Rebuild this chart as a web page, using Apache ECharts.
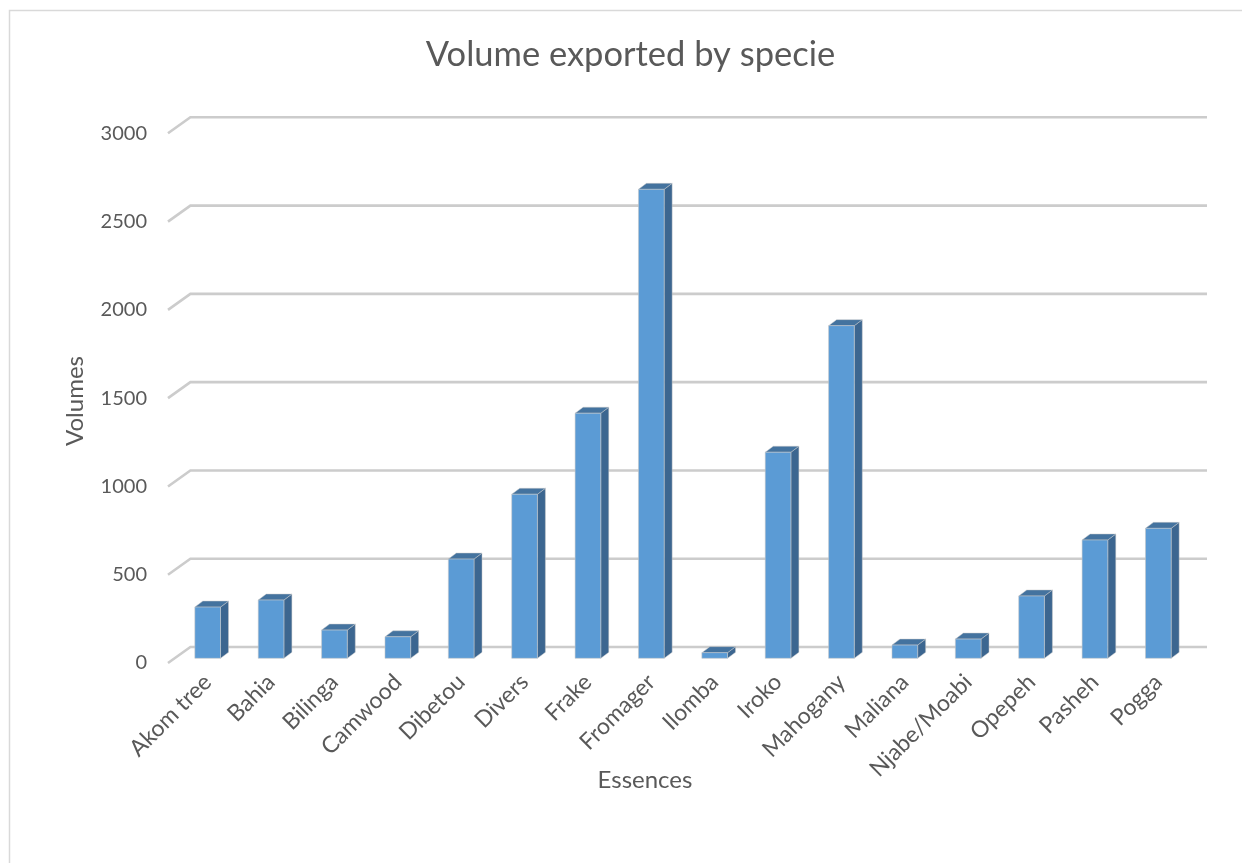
<!DOCTYPE html>
<html>
<head>
<meta charset="utf-8">
<script src="https://cdn.jsdelivr.net/npm/echarts@6/dist/echarts.min.js"></script>
<style>
  html, body { margin: 0; padding: 0; background: #ffffff; }
  #chart { width: 1242px; height: 863px; }
</style>
</head>
<body>
<div id="chart"></div>
<script>
// Export volumes per wood species
const species = ['Akom tree', 'Bahia', 'Bilinga', 'Camwood', 'Dibetou', 'Divers', 'Frake', 'Fromager',
  'Ilomba', 'Iroko', 'Mahogany', 'Maliana', 'Njabe/Moabi', 'Opepeh', 'Pasheh', 'Pogga'];
const volumes = [290, 330, 160, 122, 562, 929, 1388, 2656, 32, 1167, 1884, 75, 109, 353, 670, 736];
const yTicks = [0, 500, 1000, 1500, 2000, 2500, 3000];

const TEXT = '#595959';
const FONT = 'Lato';
// depth of the back wall and of the bars (pseudo-3D offsets)
const WALL_DX = 22.4, WALL_DY = -16;
const BAR_DX = 8, BAR_DY = -6;

const chart = echarts.init(document.getElementById('chart'));

// back-wall gridlines with a diagonal leg to the front edge
function renderGrid(params, api) {
  const v = api.value(0);
  const a = api.coord([0, v]);
  const b = api.coord([1, v]);
  return {
    type: 'polyline',
    shape: { points: [[a[0], a[1]], [a[0] + WALL_DX, a[1] + WALL_DY], [b[0] + WALL_DX, b[1] + WALL_DY]] },
    style: { stroke: '#cccccc', lineWidth: 2.6, fill: null },
    silent: true
  };
}

// one pseudo-3D column: front, side and top faces
function renderBar(params, api) {
  const idx = api.value(0);
  const top = api.coord([idx, api.value(1)]);
  const base = api.coord([idx, 0]);
  const band = api.size([1, 0])[0];
  const w = band * 0.405;
  const x0 = top[0] - w / 2, x1 = top[0] + w / 2;
  const yt = top[1], yb = base[1];
  return {
    type: 'group',
    children: [
      {
        type: 'polygon',
        shape: { points: [[x1, yt], [x1 + BAR_DX, yt + BAR_DY], [x1 + BAR_DX, yb + BAR_DY], [x1, yb]] },
        style: { fill: '#3c6690', stroke: 'rgba(200,200,200,0.6)', lineWidth: 0.8 }
      },
      {
        type: 'polygon',
        shape: { points: [[x0, yt], [x0 + BAR_DX, yt + BAR_DY], [x1 + BAR_DX, yt + BAR_DY], [x1, yt]] },
        style: { fill: '#44739f', stroke: 'rgba(200,200,200,0.6)', lineWidth: 0.8 }
      },
      {
        type: 'rect',
        shape: { x: x0, y: yt, width: w, height: yb - yt },
        style: { fill: '#5b9bd5', stroke: 'rgba(200,200,200,0.7)', lineWidth: 0.8 }
      }
    ]
  };
}

chart.setOption({
  backgroundColor: '#ffffff',
  animation: false,
  grid: [
    // plane of the column fronts
    { left: 176, width: 1014, top: 128.6, height: 529.7 },
    // front edge of the floor / wall (tick labels, gridline legs)
    { left: 168, width: 1016.6, top: 133.3, height: 529.7 }
  ],
  xAxis: [
    {
      type: 'category', gridIndex: 0, data: species,
      axisLine: { show: false }, axisTick: { show: false },
      axisLabel: {
        interval: 0, rotate: 45, margin: 20,
        color: TEXT, fontFamily: FONT, fontSize: 23
      }
    },
    { type: 'value', gridIndex: 1, min: 0, max: 1, show: false }
  ],
  yAxis: [
    { type: 'value', gridIndex: 0, min: 0, max: 3000, interval: 500, show: false },
    {
      type: 'value', gridIndex: 1, min: 0, max: 3000, interval: 500,
      axisLine: { show: false }, axisTick: { show: false }, splitLine: { show: false },
      axisLabel: { margin: 21, color: TEXT, fontFamily: FONT, fontSize: 20, formatter: v => String(v) }
    }
  ],
  series: [
    {
      type: 'custom', xAxisIndex: 1, yAxisIndex: 1, z: 1,
      data: yTicks.map(v => [v]),
      renderItem: renderGrid
    },
    {
      type: 'custom', xAxisIndex: 0, yAxisIndex: 0, z: 2,
      data: volumes.map((v, i) => [i, v]),
      renderItem: renderBar
    }
  ],
  graphic: [
    {
      type: 'rect', z: -10, silent: true,
      shape: { x: 9.5, y: 10.5, width: 1300, height: 900 },
      style: { fill: null, stroke: '#d9d9d9', lineWidth: 1.5 }
    },
    {
      type: 'text', x: 630.5, y: 55,
      style: { text: 'Volume exported by specie', fill: TEXT, font: '34.5px Lato', textAlign: 'center', textVerticalAlign: 'middle' }
    },
    {
      type: 'text', x: 75, y: 401, rotation: Math.PI / 2,
      style: { text: 'Volumes', fill: TEXT, font: '24px Lato', textAlign: 'center', textVerticalAlign: 'middle' }
    },
    {
      type: 'text', x: 645, y: 780,
      style: { text: 'Essences', fill: TEXT, font: '24px Lato', textAlign: 'center', textVerticalAlign: 'middle' }
    }
  ]
});
</script>
</body>
</html>
